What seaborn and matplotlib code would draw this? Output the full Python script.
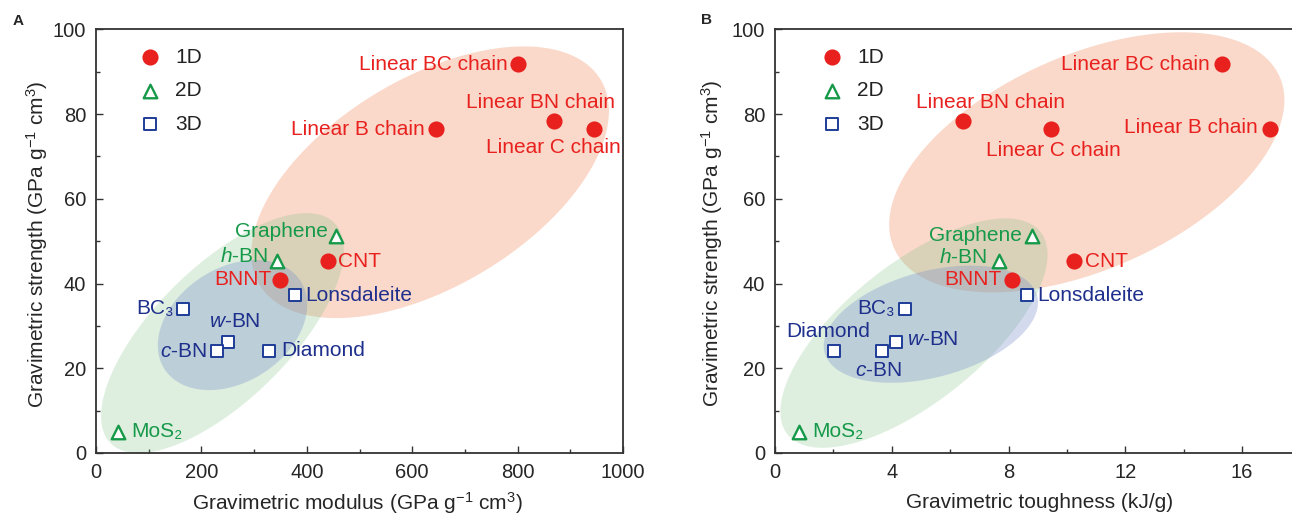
import numpy as np
import pandas as pd
import matplotlib
matplotlib.use("Agg")
import matplotlib.pyplot as plt
from matplotlib.ticker import MultipleLocator
import seaborn as sns

# ---- data ----
materials = ["Linear BC chain", "Linear BN chain", "Linear C chain", "Linear B chain",
             "CNT", "BNNT", "Graphene", "h-BN", "MoS2", "Lonsdaleite",
             "BC3", "w-BN", "c-BN", "Diamond"]
dims = ["1D", "1D", "1D", "1D", "1D", "1D", "2D", "2D", "2D",
        "3D", "3D", "3D", "3D", "3D"]
modulus = [800, 870, 945, 645, 441, 350, 455, 344, 42, 377, 166, 250, 230, 328]
toughness = [15.3, 6.45, 9.45, 16.95, 10.23, 8.11, 8.8, 7.67, 0.83, 8.62,
             4.44, 4.13, 3.65, 2.02]
strength = [91.8, 78.3, 76.4, 76.4, 45.2, 40.9, 51.1, 45.4, 5.0, 37.2,
            34.0, 26.2, 24.0, 24.1]

display_names = {"h-BN": r"$h$-BN", "w-BN": r"$w$-BN", "c-BN": r"$c$-BN",
                 "MoS2": "MoS₂", "BC3": "BC₃"}

# ---- style ----
colors = {"1D": "#E8211E", "2D": "#17994A", "3D": "#1E3C98"}
text_colors = {"1D": "#E8211E", "2D": "#17994A", "3D": "#1E2F8C"}
markers = {"1D": "o", "2D": "^", "3D": "s"}
sizes = {"1D": 135, "2D": 95, "3D": 68}
lws = {"1D": 0, "2D": 1.7, "3D": 1.4}

# label offsets in pixels (dx, dy up, ha)
offsets_a = {
    "Linear BC chain": (-10, 0, "right"), "Linear BN chain": (-14, 19, "center"),
    "Linear C chain": (-41, -18, "center"), "Linear B chain": (-11, 0, "right"),
    "CNT": (10, 0, "left"), "BNNT": (-9, 0, "right"), "Graphene": (-8, 5, "right"),
    "h-BN": (-9, 4, "right"), "MoS2": (13, 0, "left"), "Lonsdaleite": (11, 0, "left"),
    "BC3": (-10, 0, "right"), "w-BN": (7, 20, "center"), "c-BN": (-10, 0, "right"),
    "Diamond": (12, 0, "left"),
}
offsets_b = {
    "Linear BC chain": (-12, 0, "right"), "Linear BN chain": (27, 19, "center"),
    "Linear C chain": (3, -21, "center"), "Linear B chain": (-12, 2, "right"),
    "CNT": (11, 0, "left"), "BNNT": (-10, 0, "right"), "Graphene": (-10, 1, "right"),
    "h-BN": (-12, 3, "right"), "MoS2": (13, 0, "left"), "Lonsdaleite": (11, 0, "left"),
    "BC3": (-10, 0, "right"), "w-BN": (11, 2, "left"), "c-BN": (-3, -19, "center"),
    "Diamond": (-6, 19, "center"),
}

# shaded regions: data-space centre, semi-axes in pixels, angle
blobs_a = [((634, 63.9), 199, 104, 31, "#F08050", 0.30),
           ((240, 28.3), 157, 67, 44.5, "#7CC283", 0.25),
           ((259, 30.2), 81, 57, 33, "#6F86C8", 0.30)]
blobs_b = [((10.68, 68.6), 211, 107, 24, "#F08050", 0.30),
           ((4.76, 28.3), 162, 69, 38.7, "#7CC283", 0.25),
           ((5.34, 30.4), 110, 53, 15, "#6F86C8", 0.30)]

df = pd.DataFrame({"material": materials, "dim": dims, "modulus": modulus,
                   "toughness": toughness, "strength": strength})

sns.set_style("ticks")
plt.rcParams["font.family"] = ["Liberation Sans", "DejaVu Sans"]
plt.rcParams["mathtext.fontset"] = "custom"
plt.rcParams["mathtext.rm"] = "Liberation Sans"
plt.rcParams["mathtext.it"] = "Liberation Sans:italic"


def add_blob(ax, center, a, b, angle, color, alpha, z):
    t = np.linspace(0, 2 * np.pi, 300)
    th = np.deg2rad(angle)
    u, v = a * np.cos(t), b * np.sin(t)
    dx = u * np.cos(th) - v * np.sin(th)
    dy = u * np.sin(th) + v * np.cos(th)
    c = ax.transData.transform(center)
    pts = ax.transData.inverted().transform(np.column_stack([c[0] + dx, c[1] + dy]))
    ax.fill(pts[:, 0], pts[:, 1], color=color, alpha=alpha, lw=0, zorder=z)


def draw_panel(ax, xcol, xlim, xmajor, xminor, xlabel, blobs, offsets, legend_x):
    ax.set_xlim(*xlim)
    ax.set_ylim(0, 100)
    for i, (cen, a, b, ang, col, al) in enumerate(blobs):
        add_blob(ax, cen, a, b, ang, col, al, 0.5 + 0.1 * i)

    for d in ["1D", "2D", "3D"]:
        sub = df[df["dim"] == d]
        if d == "1D":
            sns.scatterplot(x=sub[xcol], y=sub["strength"], ax=ax, marker="o",
                            color=colors[d], s=sizes[d], linewidth=0, label=d, zorder=3)
        else:
            sns.scatterplot(x=sub[xcol], y=sub["strength"], ax=ax, marker=markers[d],
                            color="white", edgecolor=colors[d], s=sizes[d],
                            linewidth=lws[d], label=d, zorder=3)

    for _, row in df.iterrows():
        dx, dy, ha = offsets[row["material"]]
        ax.annotate(display_names.get(row["material"], row["material"]),
                    (row[xcol], row["strength"]), xytext=(dx * 0.72, dy * 0.72),
                    textcoords="offset points", ha=ha, va="center",
                    fontsize=15, color=text_colors[row["dim"]], zorder=4)

    ax.xaxis.set_major_locator(MultipleLocator(xmajor))
    ax.xaxis.set_minor_locator(MultipleLocator(xminor))
    ax.yaxis.set_major_locator(MultipleLocator(20))
    ax.yaxis.set_minor_locator(MultipleLocator(10))
    ax.tick_params(which="both", direction="in", top=False, right=False,
                   labelsize=14.5, pad=7, color="#333333")
    ax.tick_params(which="major", length=5, width=1.0)
    ax.tick_params(which="minor", length=3, width=1.0)
    for sp in ax.spines.values():
        sp.set_linewidth(1.3)
        sp.set_color("#333333")

    ax.set_xlabel(xlabel, fontsize=15)
    ax.set_ylabel(r"Gravimetric strength (GPa g$^{-1}$ cm$^{3}$)", fontsize=15)

    leg = ax.legend(loc="upper left", bbox_to_anchor=(legend_x, 0.957), frameon=False,
                    fontsize=15, handlelength=1.0, handletextpad=0.7,
                    labelspacing=0.7, borderpad=0, borderaxespad=0, scatterpoints=1)
    for txt in leg.get_texts():
        txt.set_color("#222222")


fig = plt.figure(figsize=(12.92, 5.17), dpi=100)
bottom = 1 - 453 / 517
height = (453 - 29.3) / 517
axA = fig.add_axes([96 / 1292, bottom, (623 - 96) / 1292, height])
axB = fig.add_axes([775 / 1292, bottom, (1292 - 775) / 1292, height])

draw_panel(axA, "modulus", (0, 1000), 200, 100,
           r"Gravimetric modulus (GPa g$^{-1}$ cm$^{3}$)", blobs_a, offsets_a, 0.083)
draw_panel(axB, "toughness", (0, 17.71), 4, 2,
           "Gravimetric toughness (kJ/g)", blobs_b, offsets_b, 0.090)
axB.spines["right"].set_visible(False)

axA.xaxis.label.set_va("center")
axA.xaxis.set_label_coords(0.496, -0.118)
axA.yaxis.label.set_va("center")
axA.yaxis.set_label_coords(-0.112, 0.493)
axB.xaxis.label.set_va("center")
axB.xaxis.set_label_coords(0.511, -0.118)
axB.yaxis.label.set_va("center")
axB.yaxis.set_label_coords(-0.122, 0.496)

fig.text(18 / 1292, 1 - 21 / 517, "A", fontsize=11, fontweight="bold", ha="center", va="center")
fig.text(706 / 1292, 1 - 20 / 517, "B", fontsize=11, fontweight="bold", ha="center", va="center")

fig.savefig("out.png", dpi=100)
